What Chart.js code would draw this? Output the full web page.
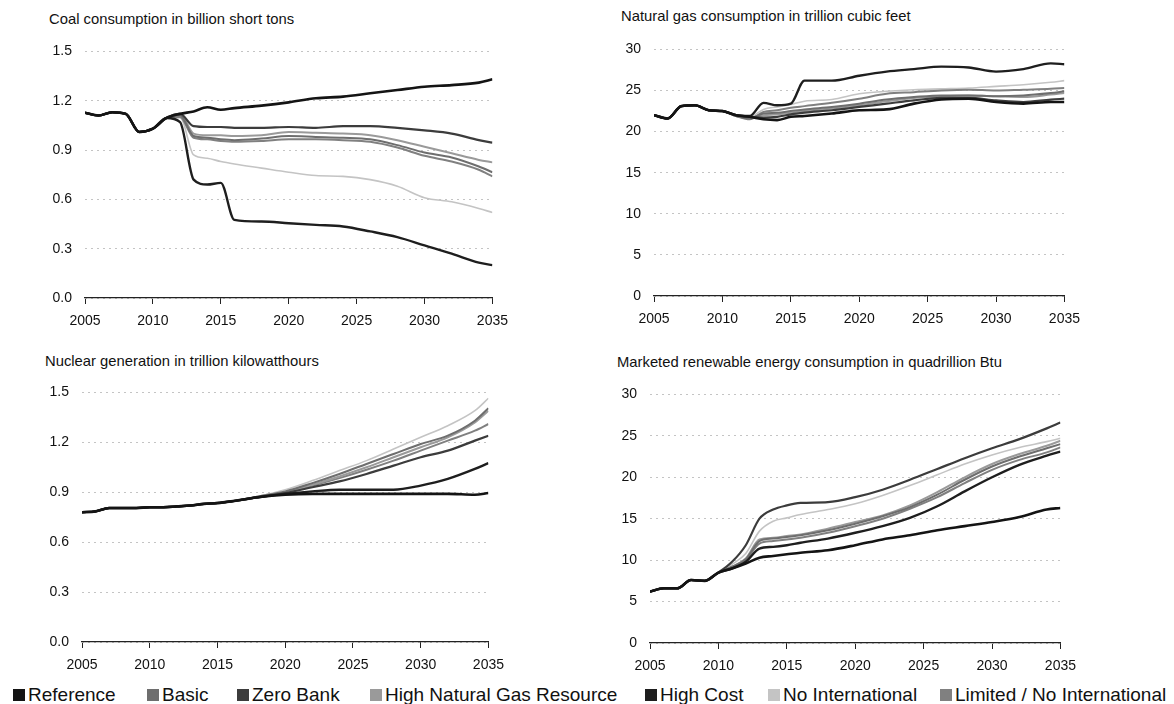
<!DOCTYPE html>
<html>
<head>
<meta charset="utf-8">
<script src="https://cdn.jsdelivr.net/npm/chart.js@4.4.0/dist/chart.umd.min.js"></script>
<style>
    body { margin: 0; background: #fff; width: 1174px; height: 704px; overflow: hidden; position: relative;
           font-family: "Liberation Sans", Arial, sans-serif; color: #111; }
    canvas { position: absolute; }
    .titulo { position: absolute; font-size: 14.8px; line-height: 15px; white-space: nowrap; }
    .item { position: absolute; top: 685px; display: flex; align-items: center; white-space: nowrap;
            font-size: 19px; line-height: 20px; }
    .sw { width: 12px; height: 12px; margin-right: 3px; display: inline-block; }
</style>
</head>
<body>

<div class="titulo" style="left:49px;top:12px">Coal consumption in billion short tons</div>
<div class="titulo" style="left:621px;top:9px">Natural gas consumption in trillion cubic feet</div>
<div class="titulo" style="left:45px;top:354px">Nuclear generation in trillion kilowatthours</div>
<div class="titulo" style="left:617px;top:355px">Marketed renewable energy consumption in quadrillion Btu</div>

<canvas id="c-coal"></canvas>
<canvas id="c-gas"></canvas>
<canvas id="c-nuclear"></canvas>
<canvas id="c-renew"></canvas>

<div id="leyenda"></div>

<script>
// ── Años ──
const histYears = [2005, 2006, 2007, 2008, 2009, 2010];
const projYears = [2011, 2012, 2013, 2014, 2015, 2016, 2018, 2020, 2022, 2024, 2026, 2028, 2030, 2032, 2034, 2035];

const scenarios = ['Reference', 'Basic', 'Zero Bank', 'High Natural Gas Resource', 'High Cost', 'No International', 'Limited / No International'];
const colors    = ['#141414', '#6e6e6e', '#3c3c3c', '#9a9a9a', '#1e1e1e', '#c4c4c4', '#808080'];
const widths    = [2.6, 2, 2.2, 2, 2.4, 1.6, 2];
const legendX   = [13, 147, 237, 370, 645, 768, 940];

// ── Carbón (miles de millones de toneladas cortas) ──
const coalHist = [1.127, 1.11, 1.13, 1.12, 1.01, 1.03];
const coalRef     = [1.095, 1.12, 1.135, 1.16, 1.145, 1.155, 1.17, 1.19, 1.215, 1.225, 1.245, 1.265, 1.285, 1.295, 1.31, 1.33];
const coalBasic   = [1.095, 1.11, 0.985, 0.975, 0.965, 0.96, 0.97, 0.985, 0.98, 0.975, 0.965, 0.93, 0.885, 0.855, 0.8, 0.765];
const coalZero    = [1.095, 1.12, 1.045, 1.04, 1.04, 1.035, 1.035, 1.04, 1.035, 1.045, 1.045, 1.035, 1.02, 1.0, 0.96, 0.945];
const coalHNG     = [1.095, 1.12, 1.0, 0.99, 0.99, 0.985, 0.99, 1.01, 1.005, 1.0, 0.99, 0.96, 0.92, 0.88, 0.84, 0.825];
const coalHigh    = [1.095, 1.07, 0.72, 0.69, 0.7, 0.475, 0.465, 0.455, 0.445, 0.435, 0.405, 0.37, 0.32, 0.27, 0.215, 0.2];
const coalNoIntl  = [1.095, 1.1, 0.87, 0.85, 0.83, 0.815, 0.79, 0.765, 0.745, 0.74, 0.72, 0.68, 0.61, 0.585, 0.545, 0.52];
const coalLimited = [1.095, 1.1, 0.975, 0.965, 0.955, 0.95, 0.955, 0.965, 0.965, 0.96, 0.95, 0.915, 0.865, 0.83, 0.78, 0.74];

// ── Gas natural (billones de pies cúbicos) ──
const gasHist = [22.0, 21.6, 23.1, 23.2, 22.6, 22.5];
const gasRef     = [22.0, 21.8, 21.5, 21.4, 21.8, 21.9, 22.2, 22.6, 22.7, 23.4, 23.9, 24.0, 23.6, 23.4, 23.6, 23.6];
const gasBasic   = [21.9, 21.6, 22.2, 22.3, 22.5, 22.7, 23.0, 23.4, 23.9, 24.2, 24.4, 24.4, 24.3, 24.4, 24.7, 24.9];
const gasZero    = [22.0, 21.8, 21.7, 21.8, 22.1, 22.3, 22.6, 23.0, 23.4, 23.8, 24.1, 24.1, 23.8, 23.6, 23.9, 24.0];
const gasHNG     = [21.9, 21.7, 22.0, 22.1, 22.3, 22.5, 22.8, 23.2, 23.7, 24.1, 24.3, 24.4, 24.3, 24.2, 24.5, 24.7];
const gasHigh    = [22.0, 21.9, 23.5, 23.2, 23.4, 26.2, 26.2, 26.8, 27.3, 27.6, 27.9, 27.8, 27.3, 27.6, 28.3, 28.2];
const gasNoIntl  = [22.0, 21.8, 22.7, 23.0, 23.3, 23.7, 23.9, 24.6, 24.9, 25.1, 25.2, 25.3, 25.5, 25.7, 26.0, 26.2];
const gasLimited = [21.9, 21.5, 22.4, 22.6, 22.9, 23.1, 23.5, 24.0, 24.6, 24.8, 25.0, 25.1, 25.0, 25.1, 25.2, 25.3];

// ── Nuclear (billones de kWh) ──
const nucHist = [0.78, 0.785, 0.805, 0.805, 0.805, 0.81];
const nucRef     = [0.81, 0.815, 0.82, 0.83, 0.835, 0.845, 0.87, 0.885, 0.89, 0.89, 0.89, 0.89, 0.89, 0.89, 0.885, 0.895];
const nucBasic   = [0.81, 0.815, 0.82, 0.83, 0.835, 0.845, 0.875, 0.905, 0.955, 1.01, 1.07, 1.13, 1.19, 1.24, 1.33, 1.405];
const nucZero    = [0.81, 0.815, 0.82, 0.83, 0.835, 0.845, 0.87, 0.895, 0.93, 0.965, 1.01, 1.06, 1.11, 1.15, 1.21, 1.24];
const nucHNG     = [0.81, 0.815, 0.82, 0.83, 0.835, 0.845, 0.87, 0.9, 0.945, 0.995, 1.05, 1.11, 1.17, 1.23, 1.32, 1.39];
const nucHigh    = [0.81, 0.815, 0.82, 0.83, 0.835, 0.845, 0.87, 0.89, 0.905, 0.915, 0.915, 0.915, 0.94, 0.98, 1.04, 1.075];
const nucNoIntl  = [0.81, 0.815, 0.82, 0.83, 0.835, 0.845, 0.875, 0.915, 0.97, 1.03, 1.09, 1.16, 1.23, 1.3, 1.39, 1.465];
const nucLimited = [0.81, 0.815, 0.82, 0.83, 0.835, 0.845, 0.87, 0.9, 0.94, 0.985, 1.035, 1.09, 1.15, 1.21, 1.27, 1.31];

// ── Renovables (cuatrillones de Btu) ──
const renHist = [6.2, 6.6, 6.6, 7.6, 7.5, 8.5];
const renRef     = [9.0, 9.6, 10.3, 10.5, 10.7, 10.9, 11.2, 11.8, 12.5, 13.0, 13.6, 14.1, 14.6, 15.2, 16.1, 16.3];
const renBasic   = [9.2, 10.1, 12.3, 12.6, 12.8, 13.0, 13.6, 14.4, 15.3, 16.4, 17.9, 19.7, 21.3, 22.5, 23.5, 24.0];
const renZero    = [9.8, 11.8, 15.0, 16.1, 16.6, 16.9, 17.0, 17.6, 18.5, 19.7, 21.0, 22.3, 23.5, 24.6, 25.9, 26.6];
const renHNG     = [9.2, 10.2, 12.5, 12.7, 12.9, 13.1, 13.8, 14.6, 15.4, 16.6, 18.2, 20.0, 21.6, 22.8, 23.8, 24.4];
const renHigh    = [9.0, 9.8, 11.4, 11.6, 11.8, 12.1, 12.6, 13.3, 14.1, 15.1, 16.5, 18.3, 20.0, 21.5, 22.6, 23.1];
const renNoIntl  = [9.5, 10.8, 13.5, 14.7, 15.1, 15.5, 16.1, 16.8, 17.8, 19.0, 20.3, 21.6, 22.7, 23.6, 24.3, 24.7];
const renLimited = [9.1, 10.0, 12.0, 12.3, 12.5, 12.7, 13.3, 14.1, 15.0, 16.2, 17.6, 19.3, 20.9, 22.1, 23.0, 23.6];

const years = histYears.concat(projYears);

// ── Construye los datasets de un panel ──
function datasets(hist, series) {
    return series.map((proj, i) => ({
        label: scenarios[i],
        data: years.map((yr, k) => ({ x: yr, y: hist.concat(proj)[k] })),
        borderColor: colors[i],
        borderWidth: widths[i],
        pointRadius: 0,
        cubicInterpolationMode: 'monotone',
        order: [0, 3, 2, 4, 1, 6, 5][i]
    }));
}

function panel(id, plot, yMax, yStep, decimals, sets) {
    const [x0, y0, x1, y1] = plot;
    const left = x0 - 60, top = y0 - 12;
    const cv = document.getElementById(id);
    cv.width = x1 + 24 - left;
    cv.height = y1 + 36 - top;
    cv.style.left = left + 'px';
    cv.style.top = top + 'px';
    new Chart(cv.getContext('2d'), {
        type: 'line',
        data: { datasets: sets },
        options: {
            responsive: false,
            animation: false,
            layout: { padding: { left: 0, top: 12, right: 24, bottom: 0 } },
            plugins: { legend: { display: false }, tooltip: { enabled: false } },
            scales: {
                x: {
                    type: 'linear', min: 2005, max: 2035,
                    afterFit: s => { s.height = 36; },
                    grid: { drawOnChartArea: false, drawTicks: true, tickLength: 6, color: '#222', lineWidth: 1 },
                    border: { display: true, color: '#222', width: 1.2 },
                    ticks: { stepSize: 5, padding: 9, color: '#111', font: { family: 'Liberation Sans', size: 14 },
                             callback: v => String(v), maxRotation: 0 }
                },
                y: {
                    min: 0, max: yMax,
                    afterFit: s => { s.width = 60; },
                    grid: { drawTicks: false, color: '#c4c4c4', lineWidth: 1 },
                    border: { display: false, dash: [2, 4] },
                    ticks: { stepSize: yStep, padding: 13, color: '#111', font: { family: 'Liberation Sans', size: 14 },
                             callback: v => v.toFixed(decimals) }
                }
            }
        }
    });
}

panel('c-coal', [85, 42, 493, 298], 1.5, 0.3, 1,
      datasets(coalHist, [coalRef, coalBasic, coalZero, coalHNG, coalHigh, coalNoIntl, coalLimited]));
panel('c-gas', [654, 40, 1065, 296], 30, 5, 0,
      datasets(gasHist, [gasRef, gasBasic, gasZero, gasHNG, gasHigh, gasNoIntl, gasLimited]));
panel('c-nuclear', [82, 383, 489, 642], 1.5, 0.3, 1,
      datasets(nucHist, [nucRef, nucBasic, nucZero, nucHNG, nucHigh, nucNoIntl, nucLimited]));
panel('c-renew', [650, 385, 1061, 643], 30, 5, 0,
      datasets(renHist, [renRef, renBasic, renZero, renHNG, renHigh, renNoIntl, renLimited]));

// ── Leyenda ──
document.getElementById('leyenda').innerHTML = scenarios.map((s, i) =>
    `<span class="item" style="left:${legendX[i]}px"><span class="sw" style="background:${colors[i]}"></span>${s}</span>`).join('');
</script>
</body>
</html>
